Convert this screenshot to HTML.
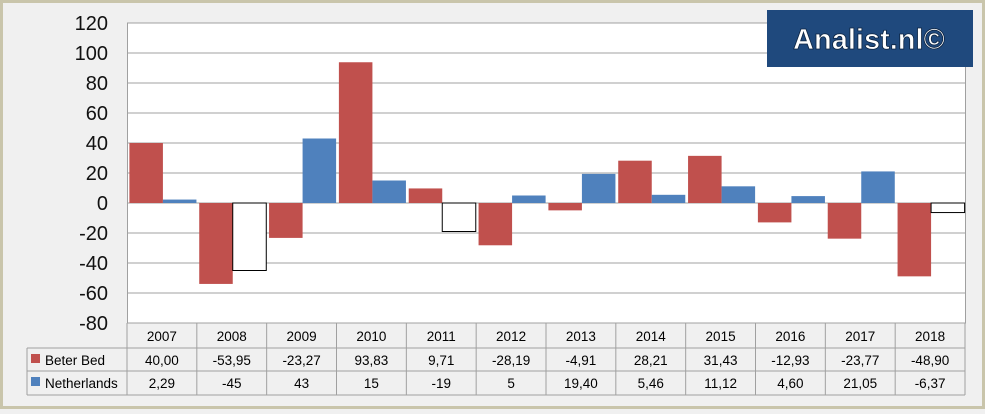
<!DOCTYPE html>
<html><head><meta charset="utf-8"><style>
body{margin:0;width:985px;height:409px;overflow:hidden;background:#f0f0f0;font-family:"Liberation Sans",sans-serif}
</style></head><body>
<svg width="985" height="409" xmlns="http://www.w3.org/2000/svg">
<rect x="1.5" y="1.5" width="982" height="406" fill="#f0f0f0" stroke="#c9c5ab" stroke-width="3"/>
<rect x="127" y="23" width="838" height="300" fill="#fff"/>
<g id="grid"></g><g id="bars"></g><g id="yaxis"></g><g id="table"></g>
<rect x="767" y="10" width="206" height="57" fill="#1f497d"/>
<text x="869" y="49" text-anchor="middle" font-size="29" font-weight="bold" fill="#fff" stroke="#0c2340" stroke-width="0.8" font-family="'Liberation Sans',sans-serif">Analist.nl©</text>
</svg>
<script>
const years=["2007","2008","2009","2010","2011","2012","2013","2014","2015","2016","2017","2018"];
const beterBed=[40.00,-53.95,-23.27,93.83,9.71,-28.19,-4.91,28.21,31.43,-12.93,-23.77,-48.90];
const netherlands=[2.29,-45,43,15,-19,5,19.40,5.46,11.12,4.60,21.05,-6.37];
const bbLabels=["40,00","-53,95","-23,27","93,83","9,71","-28,19","-4,91","28,21","31,43","-12,93","-23,77","-48,90"];
const nlLabels=["2,29","-45","43","15","-19","5","19,40","5,46","11,12","4,60","21,05","-6,37"];
const yTicks=[120,100,80,60,40,20,0,-20,-40,-60,-80];
const NS="http://www.w3.org/2000/svg";
const X0=127,X1=965,Y0=23,Y1=323,ymax=120,ymin=-80;
const cw=(X1-X0)/years.length;
const y=v=>Y0+(ymax-v)/(ymax-ymin)*(Y1-Y0);
function mk(p,tag,at,txt){const e=document.createElementNS(NS,tag);for(const k in at)e.setAttribute(k,at[k]);if(txt!==undefined)e.textContent=txt;document.getElementById(p).appendChild(e);return e;}
yTicks.forEach(t=>{
 const l=mk('grid','line',{x1:X0,x2:X1,y1:y(t),y2:y(t),stroke:'#a0a0a0','stroke-width':1});
 
 
 const tx=mk('yaxis','text',{x:108,y:y(t)+7,'text-anchor':'end','font-size':20,fill:'#111'},String(t));
 
 
});
mk('grid','rect',{x:X0+.5,y:Y0,width:X1-X0,height:Y1-Y0,fill:'none',stroke:'#a0a0a0'});
const bw=cw*0.48;
years.forEach((yr,i)=>{
 const cx=X0+i*cw+cw/2+1;
 const b=beterBed[i];
 const r=mk('bars','rect',{x:cx-bw,y:Math.min(y(b),y(0)),width:bw,height:Math.abs(y(b)-y(0)),fill:'#c0504d'});
 
 
 const n=netherlands[i];
 const neg=n<0;
 const r2=mk('bars','rect',{x:cx,y:Math.min(y(n),y(0)),width:bw,height:Math.abs(y(n)-y(0)),fill:neg?'#fff':'#4f81bd',stroke:neg?'#000':'none','stroke-width':1});
 
 
});
const tl=mk('table','g',{stroke:'#a0a0a0','stroke-width':1});
[[X0,Y1,X1,Y1],[27,348,X1,348],[27,371,X1,371],[27,395,X1,395],[27,348,27,395],[X1,323,X1,395]].forEach(a=>{
 const l=document.createElementNS(NS,'line');l.setAttribute('x1',a[0]);l.setAttribute('y1',a[1]);l.setAttribute('x2',a[2]);l.setAttribute('y2',a[3]);tl.appendChild(l);});
for(let i=0;i<=years.length;i++){const l=document.createElementNS(NS,'line');const xx=X0+i*cw;l.setAttribute('x1',xx);l.setAttribute('x2',xx);l.setAttribute('y1',323);l.setAttribute('y2',395);tl.appendChild(l);}
years.forEach((yr,i)=>{
 const cx=X0+i*cw+cw/2;
 const a=mk('table','text',{x:cx,y:341,'text-anchor':'middle','font-size':13.5,fill:'#000'},yr);
 
 
 const b=mk('table','text',{x:cx,y:365,'text-anchor':'middle','font-size':13.5,fill:'#000'},bbLabels[i]);
 
 
 const c=mk('table','text',{x:cx,y:388,'text-anchor':'middle','font-size':13.5,fill:'#000'},nlLabels[i]);
 
 
});
const k1=mk('table','rect',{x:31,y:354,width:9,height:9,fill:'#c0504d'});


const t1=mk('table','text',{x:45,y:365,'font-size':13.5,fill:'#000'},'Beter Bed');


const k2=mk('table','rect',{x:31,y:377,width:9,height:9,fill:'#4f81bd'});


const t2=mk('table','text',{x:45,y:388,'font-size':13.5,fill:'#000'},'Netherlands');


</script>
</body></html>
